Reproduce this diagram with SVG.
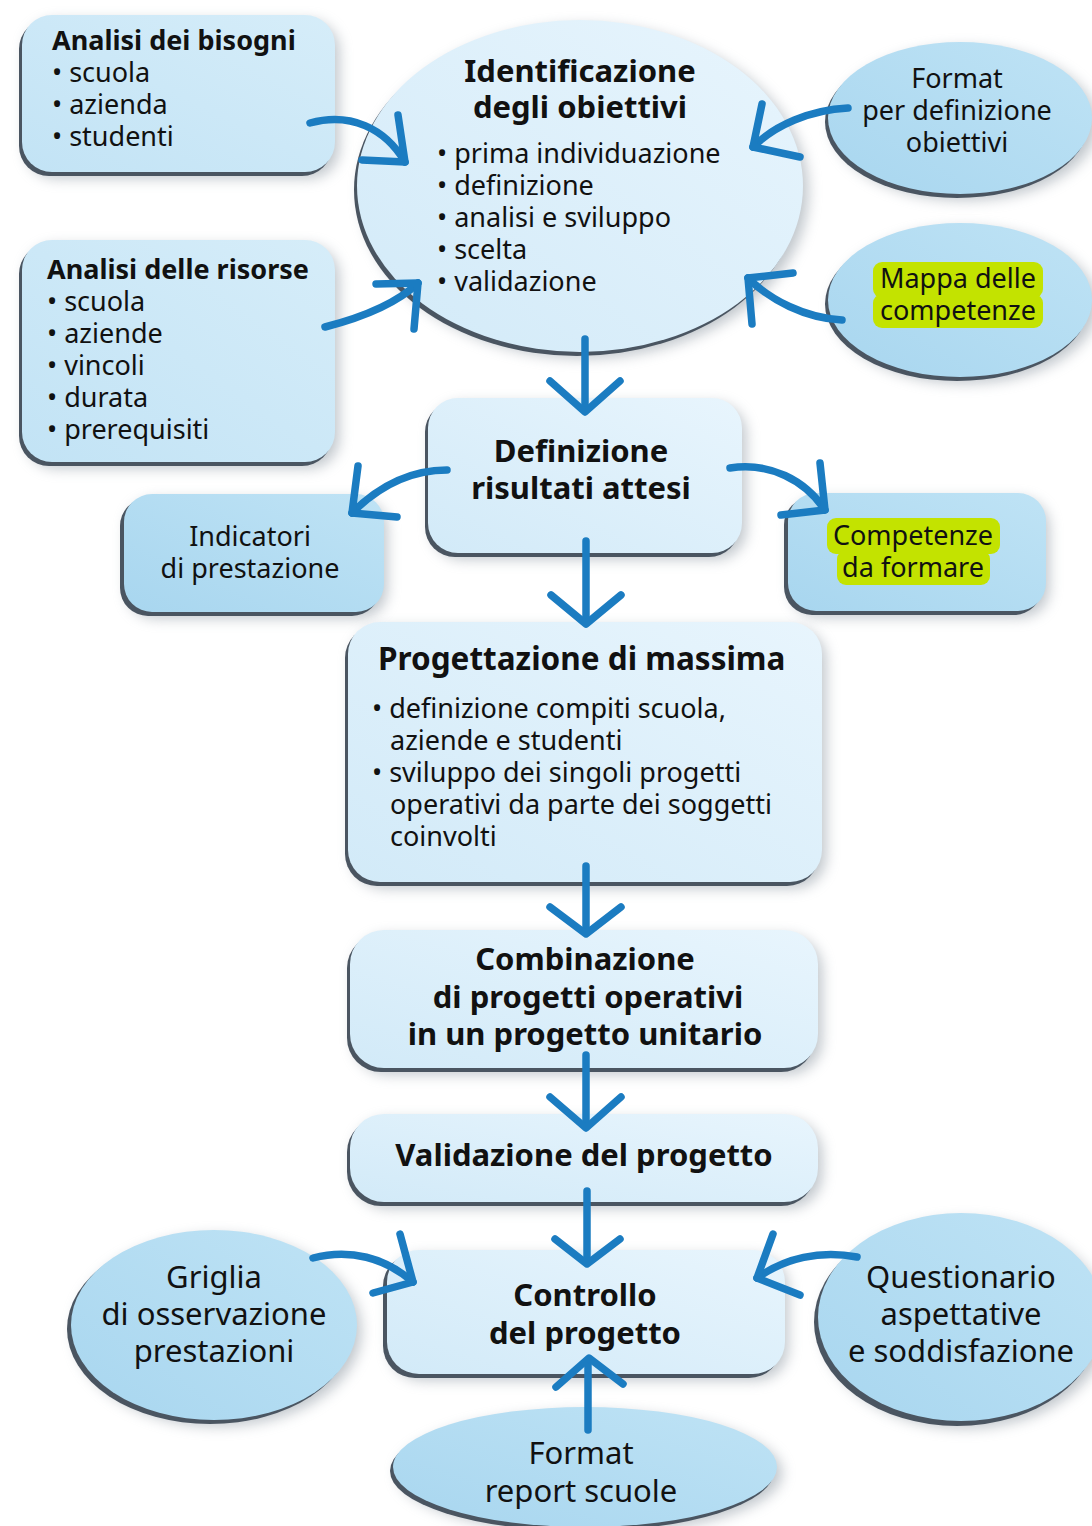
<svg xmlns="http://www.w3.org/2000/svg" width="1092" height="1526" viewBox="0 0 1092 1526">
<defs>
<filter id="blur" x="-30%" y="-30%" width="160%" height="160%"><feGaussianBlur stdDeviation="7"/></filter>
<linearGradient id="gPale" x1="0" y1="1" x2="1" y2="0"><stop offset="0" stop-color="#d2eaf8"/><stop offset="1" stop-color="#e8f5fd"/></linearGradient>
<linearGradient id="gBox" x1="0" y1="1" x2="1" y2="0"><stop offset="0" stop-color="#c2e3f5"/><stop offset="1" stop-color="#d6edf9"/></linearGradient>
<linearGradient id="gMid" x1="0" y1="1" x2="1" y2="0"><stop offset="0" stop-color="#a8d6ef"/><stop offset="1" stop-color="#bfe3f5"/></linearGradient>
</defs>
<style>
.sh{fill:#7f8b96;opacity:.5;filter:url(#blur)}
.edge{fill:#4a5561}
.pale{fill:url(#gPale)}
.box{fill:url(#gBox)}
.mid{fill:url(#gMid)}
text{font-family:"Noto Sans","Open Sans","DejaVu Sans",sans-serif;fill:#111}
.t{font-size:31px;font-weight:bold}
.ts{font-size:27px;font-weight:bold}
.b{font-size:27px}
.l{font-size:31px}
.c{text-anchor:middle}
.hl{fill:#c3e300}
.ar{fill:none;stroke:#1b7cc1;stroke-width:7.5;stroke-linecap:round;stroke-linejoin:round}
</style>
<rect width="1092" height="1526" fill="#ffffff"/>

<g id="n-bisogni">
<rect class="sh" x="26" y="21" width="313" height="157" rx="30"/>
<rect class="edge" x="19" y="19" width="313" height="157" rx="30"/>
<rect class="box" x="22" y="15" width="313" height="157" rx="30"/>
<text class="ts" x="52" y="50">Analisi dei bisogni</text>
<text class="b" x="52" y="82">• scuola</text>
<text class="b" x="52" y="114">• azienda</text>
<text class="b" x="52" y="146">• studenti</text>
</g>

<g id="n-risorse">
<rect class="sh" x="26" y="246" width="313" height="222" rx="30"/>
<rect class="edge" x="19" y="244" width="313" height="222" rx="30"/>
<rect class="box" x="22" y="240" width="313" height="222" rx="30"/>
<text class="ts" x="47" y="279">Analisi delle risorse</text>
<text class="b" x="47" y="311">• scuola</text>
<text class="b" x="47" y="343">• aziende</text>
<text class="b" x="47" y="375">• vincoli</text>
<text class="b" x="47" y="407">• durata</text>
<text class="b" x="47" y="439">• prerequisiti</text>
</g>

<g id="n-identificazione">
<ellipse class="sh" cx="585" cy="192" rx="223" ry="166"/>
<ellipse class="edge" cx="577" cy="190" rx="223" ry="166"/>
<ellipse class="pale" cx="580" cy="186" rx="223" ry="166"/>
<text class="t c" x="580" y="82">Identificazione</text>
<text class="t c" x="580" y="118">degli obiettivi</text>
<text class="b" x="437" y="163">• prima individuazione</text>
<text class="b" x="437" y="195">• definizione</text>
<text class="b" x="437" y="227">• analisi e sviluppo</text>
<text class="b" x="437" y="259">• scelta</text>
<text class="b" x="437" y="291">• validazione</text>
</g>

<g id="n-format-obiettivi">
<ellipse class="sh" cx="965" cy="124" rx="132" ry="76"/>
<ellipse class="edge" cx="957" cy="122" rx="132" ry="76"/>
<ellipse class="mid" cx="960" cy="118" rx="132" ry="76"/>
<text class="b c" x="957" y="88">Format</text>
<text class="b c" x="957" y="120">per definizione</text>
<text class="b c" x="957" y="152">obiettivi</text>
</g>

<g id="n-mappa">
<ellipse class="sh" cx="965" cy="306" rx="132" ry="77"/>
<ellipse class="edge" cx="957" cy="304" rx="132" ry="77"/>
<ellipse class="mid" cx="960" cy="300" rx="132" ry="77"/>
<rect class="hl" x="873" y="262" width="170" height="36" rx="9"/>
<rect class="hl" x="873" y="294" width="170" height="34" rx="9"/>
<text class="b c" x="958" y="288">Mappa delle</text>
<text class="b c" x="958" y="320">competenze</text>
</g>

<g id="n-definizione">
<rect class="sh" x="432" y="404" width="314" height="155" rx="30"/>
<rect class="edge" x="425" y="402" width="314" height="155" rx="30"/>
<rect class="pale" x="428" y="398" width="314" height="155" rx="30"/>
<text class="t c" x="581" y="462">Definizione</text>
<text class="t c" x="581" y="499">risultati attesi</text>
</g>

<g id="n-indicatori">
<rect class="sh" x="127" y="500" width="260" height="118" rx="28"/>
<rect class="edge" x="120" y="498" width="260" height="118" rx="28"/>
<rect class="mid" x="124" y="494" width="260" height="118" rx="28"/>
<text class="b c" x="250" y="546">Indicatori</text>
<text class="b c" x="250" y="578">di prestazione</text>
</g>

<g id="n-competenze">
<rect class="sh" x="791" y="499" width="258" height="118" rx="28"/>
<rect class="edge" x="784" y="497" width="258" height="118" rx="28"/>
<rect class="mid" x="788" y="493" width="258" height="118" rx="28"/>
<rect class="hl" x="827" y="518" width="173" height="36" rx="9"/>
<rect class="hl" x="837" y="550" width="153" height="35" rx="9"/>
<text class="b c" x="913" y="545">Competenze</text>
<text class="b c" x="913" y="577">da formare</text>
</g>

<g id="n-progettazione">
<rect class="sh" x="352" y="628" width="474" height="260" rx="32"/>
<rect class="edge" x="345" y="626" width="474" height="260" rx="32"/>
<rect class="pale" x="348" y="622" width="474" height="260" rx="32"/>
<text class="t" x="378" y="670" style="font-size:31.5px">Progettazione di massima</text>
<text class="b" x="372" y="718">• definizione compiti scuola,</text>
<text class="b" x="390" y="750">aziende e studenti</text>
<text class="b" x="372" y="782">• sviluppo dei singoli progetti</text>
<text class="b" x="390" y="814">operativi da parte dei soggetti</text>
<text class="b" x="390" y="846">coinvolti</text>
</g>

<g id="n-combinazione">
<rect class="sh" x="354" y="936" width="468" height="138" rx="34"/>
<rect class="edge" x="347" y="934" width="468" height="138" rx="34"/>
<rect class="pale" x="350" y="930" width="468" height="138" rx="34"/>
<text class="t c" x="585" y="970">Combinazione</text>
<text class="t c" x="588" y="1008">di progetti operativi</text>
<text class="t c" x="585" y="1045">in un progetto unitario</text>
</g>

<g id="n-validazione">
<rect class="sh" x="354" y="1120" width="468" height="88" rx="34"/>
<rect class="edge" x="347" y="1118" width="468" height="88" rx="34"/>
<rect class="pale" x="350" y="1114" width="468" height="88" rx="34"/>
<text class="t c" x="584" y="1166">Validazione del progetto</text>
</g>

<g id="n-controllo">
<rect class="sh" x="390" y="1256" width="398" height="124" rx="32"/>
<rect class="edge" x="383" y="1254" width="398" height="124" rx="32"/>
<rect class="pale" x="387" y="1250" width="398" height="124" rx="32"/>
<text class="t c" x="585" y="1306">Controllo</text>
<text class="t c" x="585" y="1344">del progetto</text>
</g>

<g id="n-griglia">
<ellipse class="sh" cx="218" cy="1331" rx="143" ry="95"/>
<ellipse class="edge" cx="210" cy="1329" rx="143" ry="95"/>
<ellipse class="mid" cx="214" cy="1325" rx="143" ry="95"/>
<text class="l c" x="214" y="1288">Griglia</text>
<text class="l c" x="214" y="1325">di osservazione</text>
<text class="l c" x="214" y="1362">prestazioni</text>
</g>

<g id="n-questionario">
<ellipse class="sh" cx="965" cy="1324" rx="143" ry="104"/>
<ellipse class="edge" cx="957" cy="1322" rx="143" ry="104"/>
<ellipse class="mid" cx="961" cy="1317" rx="143" ry="104"/>
<text class="l c" x="961" y="1288">Questionario</text>
<text class="l c" x="961" y="1325">aspettative</text>
<text class="l c" x="961" y="1362">e soddisfazione</text>
</g>

<g id="n-report">
<ellipse class="sh" cx="590" cy="1473" rx="192" ry="60"/>
<ellipse class="edge" cx="582" cy="1471" rx="192" ry="60"/>
<ellipse class="mid" cx="585" cy="1467" rx="192" ry="60"/>
<text class="l c" x="581" y="1464">Format</text>
<text class="l c" x="581" y="1502">report scuole</text>
</g>

<g id="connectors">
<path class="ar" d="M310,123 C350,112 385,128 405,162"/>
<path class="ar" d="M398,115 L405,162 L362,160"/>
<path class="ar" d="M325,327 C360,318 395,305 418,283"/>
<path class="ar" d="M376,284 L418,283 L414,329"/>
<path class="ar" d="M848,108 C810,110 775,125 753,147"/>
<path class="ar" d="M762,104 L753,147 L800,157"/>
<path class="ar" d="M842,320 C805,318 770,300 748,278"/>
<path class="ar" d="M793,273 L748,278 L752,324"/>
<path class="ar" d="M585,339 L585,410"/>
<path class="ar" d="M550,381 L585,412 L620,381"/>
<path class="ar" d="M447,470 C405,470 375,490 352,513"/>
<path class="ar" d="M358,466 L352,513 L397,517"/>
<path class="ar" d="M730,468 C770,462 805,480 825,510"/>
<path class="ar" d="M820,463 L825,510 L781,515"/>
<path class="ar" d="M586,541 L586,622"/>
<path class="ar" d="M551,595 L586,624 L621,595"/>
<path class="ar" d="M586,866 L586,932"/>
<path class="ar" d="M550,907 L586,934 L621,907"/>
<path class="ar" d="M586,1055 L586,1126"/>
<path class="ar" d="M550,1097 L586,1128 L621,1097"/>
<path class="ar" d="M587,1191 L587,1262"/>
<path class="ar" d="M555,1239 L587,1264 L620,1239"/>
<path class="ar" d="M588,1430 L588,1360"/>
<path class="ar" d="M556,1387 L589,1358 L623,1384"/>
<path class="ar" d="M313,1258 C350,1248 385,1258 413,1282"/>
<path class="ar" d="M400,1234 L413,1282 L373,1293"/>
<path class="ar" d="M857,1257 C820,1250 785,1258 757,1278"/>
<path class="ar" d="M773,1234 L757,1278 L800,1295"/>
</g>
</svg>
